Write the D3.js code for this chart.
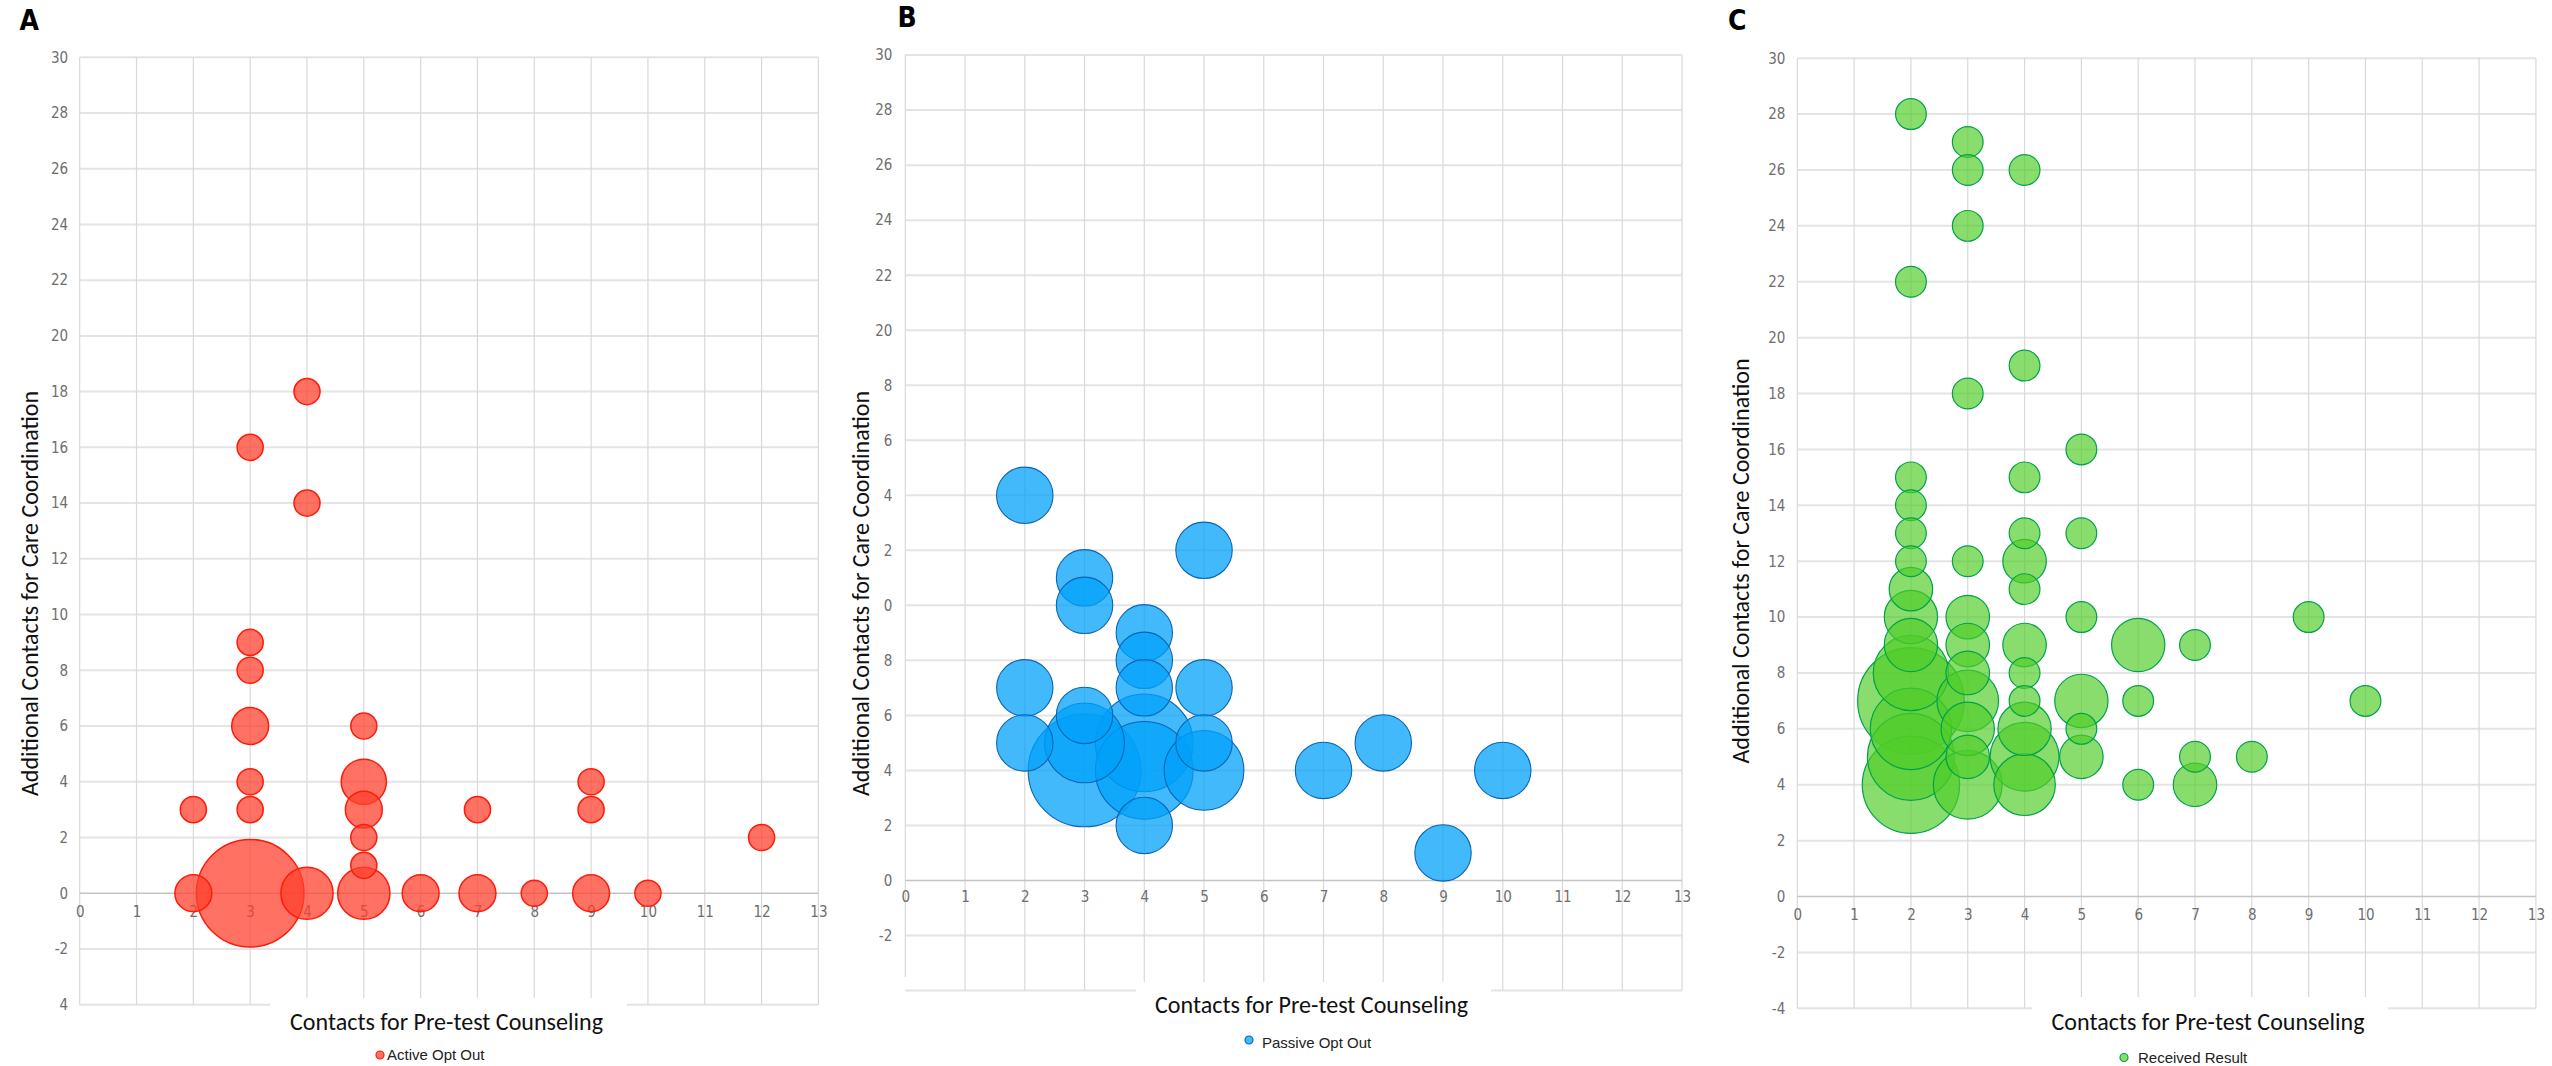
<!DOCTYPE html>
<html>
<head>
<meta charset="utf-8">
<script src="https://cdn.jsdelivr.net/npm/d3@7"></script>
<style>
  html, body { margin: 0; padding: 0; background: #fff; }
  svg { display: block; }
</style>
</head>
<body>
<svg id="chart" width="2552" height="1066"></svg>
<script>
// ---- Data -------------------------------------------------------------
// Each bubble: contacts for pre-test counseling (x), additional contacts for
// care coordination (y), number of patients (bubble size).

// A – Active Opt Out
const activeX = [2, 3, 4, 4, 3, 3, 3, 3, 3, 5, 5, 5, 5, 5, 7, 9, 9, 12, 2, 3, 4, 5, 6, 7, 8, 9, 10];
const activeY = [3, 16, 18, 14, 9, 8, 6, 4, 3, 6, 4, 3, 2, 1, 3, 4, 3, 2, 0, 0, 0, 0, 0, 0, 0, 0, 0];
const activeN = [1, 1, 1, 1, 1, 1, 2, 1, 1, 1, 3, 2, 1, 1, 1, 1, 1, 1, 2, 17, 4, 4, 2, 2, 1, 2, 1];

// B – Passive Opt Out
const passiveX = [2, 5, 3, 3, 4, 4, 4, 2, 5, 3, 2, 3, 4, 5, 3, 4, 5, 4, 7, 8, 9, 10];
const passiveY = [14, 12, 11, 10, 9, 8, 7, 7, 7, 6, 5, 5, 5, 5, 4, 4, 4, 2, 4, 5, 1, 4];
const passiveN = [1, 1, 1, 1, 1, 1, 1, 1, 1, 1, 1, 2, 3, 1, 4, 3, 2, 1, 1, 1, 1, 1];

// C – Received Result
const receivedX = [2, 2, 2, 2, 2, 2, 2, 2, 2, 2, 2, 2, 2, 2,
                   3, 3, 3, 3, 3, 3, 3, 3, 3, 3, 3, 3,
                   4, 4, 4, 4, 4, 4, 4, 4, 4, 4, 4, 4,
                   5, 5, 5, 5, 5, 5,
                   6, 6, 6,
                   7, 7, 7,
                   8, 9, 10];
const receivedY = [28, 22, 15, 14, 13, 12, 11, 10, 9, 8, 7, 6, 5, 4,
                   27, 26, 24, 18, 12, 10, 9, 8, 7, 6, 5, 4,
                   26, 19, 15, 13, 12, 11, 9, 8, 7, 6, 5, 4,
                   16, 13, 10, 7, 6, 5,
                   9, 7, 4,
                   9, 5, 4,
                   5, 10, 7];
const receivedN = [1, 1, 1, 1, 1, 1, 2, 3, 3, 6, 12, 7, 8, 10,
                   1, 1, 1, 1, 1, 2, 2, 2, 4, 3, 2, 5,
                   1, 1, 1, 1, 2, 1, 2, 1, 1, 3, 5, 4,
                   1, 1, 1, 3, 1, 2,
                   3, 1, 1,
                   1, 1, 2,
                   1, 1, 1];

// Axis ticks and their printed labels
const xTicks = [0, 1, 2, 3, 4, 5, 6, 7, 8, 9, 10, 11, 12, 13];
const xTickLabels = ["0", "1", "2", "3", "4", "5", "6", "7", "8", "9", "10", "11", "12", "13"];
const yTicks = [30, 28, 26, 24, 22, 20, 18, 16, 14, 12, 10, 8, 6, 4, 2, 0, -2, -4];
const activeYLabels = ["30", "28", "26", "24", "22", "20", "18", "16", "14", "12", "10", "8", "6", "4", "2", "0", "-2", "4"];
const passiveYLabels = ["30", "28", "26", "24", "22", "20", "8", "6", "4", "2", "0", "8", "6", "4", "2", "0", "-2", ""];
const receivedYLabels = ["30", "28", "26", "24", "22", "20", "18", "16", "14", "12", "10", "8", "6", "4", "2", "0", "-2", "-4"];

const xTitle = "Contacts for Pre-test Counseling";
const yTitle = "Additional Contacts for Care Coordination";

// ---- Panel layout and styling ----------------------------------------
const panels = [
  {
    letter: "A", series: "Active Opt Out",
    xs: activeX, ys: activeY, ns: activeN, yLabels: activeYLabels,
    fill: "rgba(255,65,45,0.75)", stroke: "#ff1a0a", strokeW: 1.5,
    left: 79.7, right: 818.4, top: 57.2, bottom: 1004.7, rMax: 53.8,
    yPad: 11.5, xLabelDrop: 18.5,
    letterPos: [19.5, 30], yTitlePos: [37.5, 593.5], xTitlePos: [446.5, 1030],
    gap: [270, 627, 998], marker: [380, 1055], legendText: [387, 1060], leftStop: null
  },
  {
    letter: "B", series: "Passive Opt Out",
    xs: passiveX, ys: passiveY, ns: passiveN, yLabels: passiveYLabels,
    fill: "rgba(0,160,250,0.74)", stroke: "#0a64b4", strokeW: 1.1,
    left: 905.3, right: 1682, top: 55.1, bottom: 990.5, rMax: 56.4,
    yPad: 13, xLabelDrop: 16.5,
    letterPos: [897.5, 27], yTitlePos: [868.5, 593.5], xTitlePos: [1311.5, 1013],
    gap: [1136, 1491, 982], marker: [1249, 1040], legendText: [1262, 1048], leftStop: 977
  },
  {
    letter: "C", series: "Received Result",
    xs: receivedX, ys: receivedY, ns: receivedN, yLabels: receivedYLabels,
    fill: "rgba(80,205,40,0.68)", stroke: "#00a24a", strokeW: 1.2,
    left: 1797.3, right: 2535.9, top: 58.2, bottom: 1008.3, rMax: 53.3,
    yPad: 12, xLabelDrop: 18,
    letterPos: [1728, 30], yTitlePos: [1748.5, 561], xTitlePos: [2208, 1030],
    gap: [2032, 2388, 997], marker: [2124, 1057.5], legendText: [2138, 1063], leftStop: null
  }
];

const tickFont = "'Liberation Sans Narrow', 'Arial Narrow', 'DejaVu Sans Condensed', sans-serif";
const titleFont = "Carlito, Calibri, Lato, 'Open Sans', sans-serif";
const legendFont = "'Liberation Sans', Arial, Helvetica, sans-serif";

const svg = d3.select("#chart");
svg.append("rect").attr("width", 2552).attr("height", 1066).attr("fill", "#fff");

panels.forEach(p => {
  const g = svg.append("g").attr("class", "panel-" + p.letter);

  const x = d3.scaleLinear().domain([0, 13]).range([p.left, p.right]);
  const y = d3.scaleLinear().domain([-4, 30]).range([p.bottom, p.top]);
  const r = d3.scaleSqrt().domain([0, d3.max(p.ns)]).range([0, p.rMax]);

  // horizontal gridlines
  g.append("g").selectAll("line")
    .data(yTicks.filter(v => v !== 0))
    .join("line")
    .attr("x1", p.left).attr("x2", p.right)
    .attr("y1", d => y(d)).attr("y2", d => y(d))
    .attr("stroke", "#e4e4e4").attr("stroke-width", 2);

  // vertical gridlines
  g.append("g").selectAll("line")
    .data(xTicks)
    .join("line")
    .attr("x1", d => x(d)).attr("x2", d => x(d))
    .attr("y1", p.top)
    .attr("y2", d => (d === 0 && p.leftStop) ? p.leftStop : p.bottom)
    .attr("stroke", "#d9d9d9").attr("stroke-width", 1.2);

  // zero line (category axis)
  g.append("line")
    .attr("x1", p.left).attr("x2", p.right)
    .attr("y1", y(0)).attr("y2", y(0))
    .attr("stroke", "#c4c4c4").attr("stroke-width", 1.6);

  // x tick labels sit along the zero line
  const xAxis = d3.axisBottom(x)
    .tickValues(xTicks)
    .tickFormat((d, i) => xTickLabels[i])
    .tickSize(0)
    .tickPadding(0);
  const gx = g.append("g").attr("transform", `translate(0,${y(0)})`).call(xAxis);
  gx.select(".domain").remove();
  gx.selectAll("text")
    .attr("y", p.xLabelDrop).attr("dy", "0.35em")
    .attr("fill", "#6e6e6e")
    .style("font-family", tickFont).style("font-size", "15px");

  // y tick labels
  const yAxis = d3.axisLeft(y)
    .tickValues(yTicks)
    .tickFormat((d, i) => p.yLabels[i])
    .tickSize(0)
    .tickPadding(p.yPad);
  const gy = g.append("g").attr("transform", `translate(${p.left},0)`).call(yAxis);
  gy.select(".domain").remove();
  gy.selectAll("text")
    .attr("fill", "#6e6e6e")
    .style("font-family", tickFont).style("font-size", "15px");

  // bubbles, largest first so the small ones stay visible on top
  const rows = p.xs.map((v, i) => ({ x: v, y: p.ys[i], n: p.ns[i] }))
    .sort((a, b) => b.n - a.n);
  g.append("g").selectAll("circle")
    .data(rows)
    .join("circle")
    .attr("cx", d => x(d.x))
    .attr("cy", d => y(d.y))
    .attr("r", d => r(d.n))
    .attr("fill", p.fill)
    .attr("stroke", p.stroke)
    .attr("stroke-width", p.strokeW);

  // white backing behind the horizontal axis title
  g.append("rect")
    .attr("x", p.gap[0]).attr("y", p.gap[2])
    .attr("width", p.gap[1] - p.gap[0]).attr("height", 1066 - p.gap[2])
    .attr("fill", "#fff");

  // axis titles
  g.append("text")
    .attr("x", p.xTitlePos[0]).attr("y", p.xTitlePos[1])
    .attr("text-anchor", "middle")
    .attr("textLength", 313).attr("lengthAdjust", "spacingAndGlyphs")
    .style("font-family", titleFont).style("font-size", "24px")
    .attr("fill", "#111")
    .text(xTitle);

  g.append("text")
    .attr("transform", `translate(${p.yTitlePos[0]},${p.yTitlePos[1]}) rotate(-90)`)
    .attr("text-anchor", "middle")
    .attr("textLength", 405).attr("lengthAdjust", "spacingAndGlyphs")
    .style("font-family", titleFont).style("font-size", "24px")
    .attr("fill", "#111")
    .text(yTitle);

  // legend
  g.append("circle")
    .attr("cx", p.marker[0]).attr("cy", p.marker[1]).attr("r", 4)
    .attr("fill", p.fill).attr("stroke", p.stroke).attr("stroke-width", 1.2);
  g.append("text")
    .attr("x", p.legendText[0]).attr("y", p.legendText[1])
    .style("font-family", legendFont).style("font-size", "15px")
    .attr("fill", "#222")
    .text(p.series);

  // panel letter
  g.append("text")
    .attr("x", p.letterPos[0]).attr("y", p.letterPos[1])
    .style("font-family", tickFont).style("font-size", "28px").style("font-weight", "bold")
    .attr("fill", "#000")
    .text(p.letter);
});
</script>
</body>
</html>
